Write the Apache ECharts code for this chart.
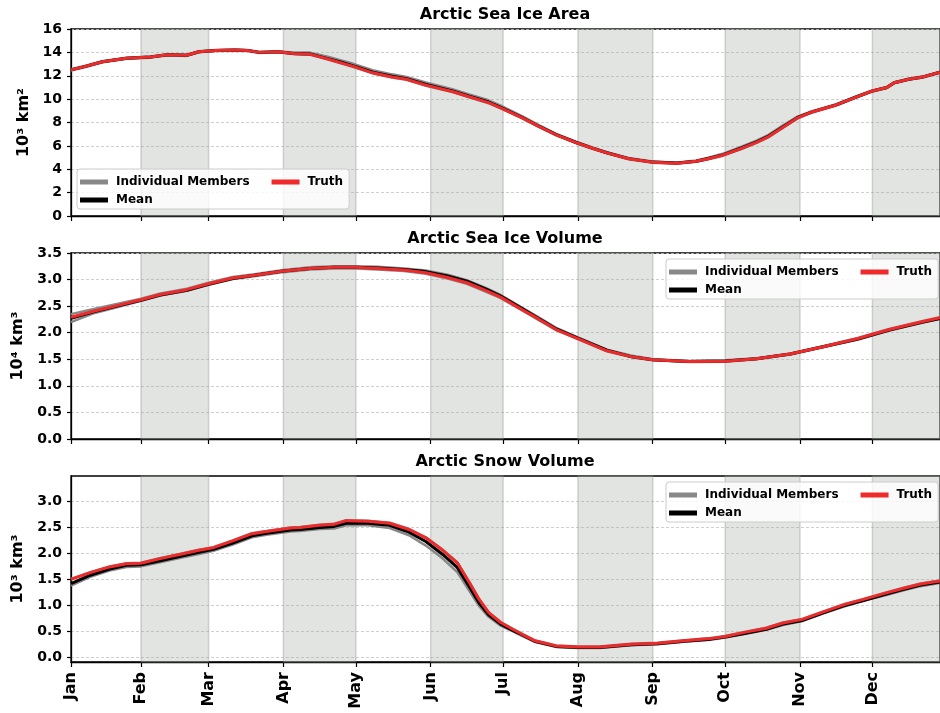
<!DOCTYPE html>
<html>
<head>
<meta charset="utf-8">
<script src="https://cdn.jsdelivr.net/npm/echarts@6.0.0/dist/echarts.min.js"></script>
<style>
  html, body { margin: 0; padding: 0; background: #fff; }
  #chart { width: 940px; height: 713px; }
</style>
</head>
<body>
<div id="chart"></div>
<script>
// month ticks (day of year) and names
var monthNames = ["Jan", "Feb", "Mar", "Apr", "May", "Jun", "Jul", "Aug", "Sep", "Oct", "Nov", "Dec"];
var monthStarts = [2, 31, 59, 90, 120, 151, 181, 212, 243, 273, 304, 334];
var shadedMonths = [[31, 59], [90, 120], [151, 181], [212, 243], [273, 304], [334, 362]];

// Arctic Sea Ice Area (10^3 km^2)
var areaDays = [2, 8, 15, 25, 35, 42, 50, 55, 62, 70, 75, 80, 88, 94, 101, 108, 114, 119, 127, 135, 141, 149, 160, 167, 175, 180, 189, 196, 203, 211, 218, 224, 233, 243, 253, 261, 266, 272, 280, 286, 291, 297, 303, 309, 319, 327, 334, 340, 343, 349, 355, 362];
var areaTruth = [12.5, 12.8, 13.2, 13.5, 13.6, 13.8, 13.75, 14.05, 14.17, 14.2, 14.17, 14.0, 14.05, 13.9, 13.85, 13.45, 13.1, 12.8, 12.25, 11.9, 11.7, 11.2, 10.65, 10.2, 9.7, 9.25, 8.4, 7.65, 6.95, 6.3, 5.8, 5.4, 4.9, 4.6, 4.52, 4.68, 4.9, 5.2, 5.8, 6.3, 6.8, 7.6, 8.4, 8.9, 9.5, 10.15, 10.7, 11.0, 11.4, 11.7, 11.9, 12.3];
var areaMean = [12.5, 12.8, 13.2, 13.5, 13.6, 13.8, 13.75, 14.05, 14.17, 14.2, 14.17, 14.0, 14.05, 13.9, 13.87, 13.49, 13.15, 12.85, 12.3, 11.95, 11.75, 11.25, 10.7, 10.25, 9.75, 9.3, 8.42, 7.66, 6.96, 6.31, 5.81, 5.41, 4.91, 4.61, 4.53, 4.69, 4.92, 5.23, 5.84, 6.34, 6.84, 7.64, 8.43, 8.91, 9.51, 10.16, 10.7, 11.0, 11.4, 11.7, 11.9, 12.3];
var areaHi = [12.55, 12.85, 13.25, 13.55, 13.65, 13.85, 13.8, 14.1, 14.2, 14.22, 14.2, 14.05, 14.08, 13.98, 13.98, 13.65, 13.3, 13.02, 12.48, 12.12, 11.9, 11.42, 10.85, 10.4, 9.9, 9.45, 8.52, 7.75, 7.02, 6.38, 5.86, 5.46, 4.96, 4.66, 4.56, 4.75, 4.98, 5.32, 5.95, 6.45, 6.95, 7.75, 8.5, 8.97, 9.56, 10.2, 10.75, 11.05, 11.45, 11.75, 11.95, 12.35];
var areaLo = [12.45, 12.75, 13.15, 13.45, 13.55, 13.75, 13.7, 14.0, 14.12, 14.15, 14.12, 13.95, 14.0, 13.85, 13.8, 13.42, 13.05, 12.75, 12.2, 11.85, 11.65, 11.15, 10.6, 10.15, 9.65, 9.2, 8.35, 7.6, 6.9, 6.25, 5.75, 5.36, 4.86, 4.56, 4.48, 4.64, 4.86, 5.16, 5.75, 6.25, 6.75, 7.55, 8.35, 8.85, 9.45, 10.1, 10.65, 10.95, 11.35, 11.65, 11.85, 12.25];

// Arctic Sea Ice Volume (10^4 km^3)
var volDays = [2, 11, 21, 31, 39, 50, 59, 69, 78, 90, 101, 111, 120, 129, 140, 149, 158, 166, 174, 180, 189, 196, 203, 212, 224, 234, 243, 258, 273, 286, 300, 314, 328, 341, 355, 362];
var volTruth = [2.29, 2.40, 2.51, 2.62, 2.72, 2.81, 2.92, 3.03, 3.08, 3.16, 3.21, 3.23, 3.23, 3.21, 3.18, 3.13, 3.04, 2.94, 2.79, 2.67, 2.43, 2.25, 2.06, 1.89, 1.66, 1.55, 1.49, 1.46, 1.465, 1.51, 1.60, 1.74, 1.89, 2.06, 2.21, 2.28];
var volMean = [2.27, 2.39, 2.50, 2.61, 2.71, 2.80, 2.91, 3.02, 3.08, 3.16, 3.21, 3.23, 3.23, 3.22, 3.19, 3.15, 3.07, 2.97, 2.82, 2.69, 2.45, 2.26, 2.07, 1.90, 1.67, 1.55, 1.49, 1.46, 1.47, 1.51, 1.60, 1.74, 1.88, 2.05, 2.20, 2.27];
var volHi = [2.35, 2.44, 2.54, 2.64, 2.74, 2.83, 2.94, 3.05, 3.10, 3.18, 3.23, 3.25, 3.25, 3.24, 3.21, 3.17, 3.09, 2.99, 2.84, 2.71, 2.47, 2.28, 2.09, 1.91, 1.68, 1.57, 1.50, 1.47, 1.48, 1.52, 1.61, 1.75, 1.90, 2.07, 2.22, 2.29];
var volLo = [2.20, 2.36, 2.48, 2.60, 2.70, 2.79, 2.90, 3.01, 3.06, 3.14, 3.19, 3.21, 3.21, 3.19, 3.16, 3.11, 3.02, 2.92, 2.77, 2.65, 2.42, 2.23, 2.05, 1.88, 1.65, 1.54, 1.48, 1.45, 1.455, 1.50, 1.59, 1.73, 1.87, 2.04, 2.19, 2.26];

// Arctic Snow Volume (10^3 km^3)
var snowDays = [2, 10, 18, 25, 31, 39, 47, 55, 61, 69, 77, 83, 93, 97, 105, 111, 116, 125, 134, 142, 149, 156, 162, 167, 171, 175, 180, 185, 189, 194, 203, 212, 221, 234, 245, 256, 267, 273, 281, 290, 297, 305, 314, 322, 330, 339, 347, 354, 362];
var snowTruth = [1.50, 1.63, 1.74, 1.80, 1.81, 1.90, 1.98, 2.06, 2.11, 2.24, 2.38, 2.42, 2.49, 2.50, 2.54, 2.56, 2.63, 2.62, 2.58, 2.46, 2.30, 2.06, 1.82, 1.44, 1.12, 0.86, 0.67, 0.54, 0.44, 0.32, 0.22, 0.20, 0.20, 0.25, 0.27, 0.32, 0.36, 0.40, 0.48, 0.56, 0.66, 0.73, 0.88, 1.01, 1.11, 1.23, 1.33, 1.41, 1.47];
var snowMean = [1.42, 1.58, 1.70, 1.77, 1.78, 1.86, 1.94, 2.02, 2.08, 2.20, 2.34, 2.39, 2.45, 2.46, 2.50, 2.52, 2.58, 2.58, 2.54, 2.41, 2.23, 1.98, 1.73, 1.36, 1.05, 0.82, 0.64, 0.52, 0.43, 0.31, 0.21, 0.19, 0.19, 0.24, 0.26, 0.31, 0.35, 0.39, 0.46, 0.54, 0.64, 0.71, 0.86, 0.99, 1.09, 1.21, 1.31, 1.39, 1.45];
var snowHi = [1.51, 1.64, 1.75, 1.81, 1.82, 1.91, 1.99, 2.07, 2.12, 2.25, 2.39, 2.43, 2.50, 2.51, 2.55, 2.57, 2.64, 2.63, 2.59, 2.47, 2.31, 2.07, 1.83, 1.45, 1.13, 0.87, 0.68, 0.55, 0.45, 0.33, 0.23, 0.21, 0.21, 0.26, 0.28, 0.33, 0.37, 0.41, 0.49, 0.57, 0.67, 0.74, 0.89, 1.02, 1.12, 1.24, 1.34, 1.42, 1.48];
var snowLo = [1.38, 1.55, 1.67, 1.74, 1.75, 1.83, 1.91, 1.99, 2.05, 2.17, 2.31, 2.36, 2.42, 2.43, 2.47, 2.48, 2.54, 2.54, 2.49, 2.35, 2.15, 1.90, 1.64, 1.28, 0.99, 0.78, 0.61, 0.50, 0.41, 0.30, 0.20, 0.18, 0.18, 0.23, 0.25, 0.30, 0.34, 0.38, 0.45, 0.53, 0.62, 0.70, 0.85, 0.97, 1.09, 1.19, 1.29, 1.37, 1.43];
var snowTicks = [0, 0.5, 1.0, 1.5, 2.0, 2.5, 3.0];

var FONT = "DejaVu Sans";
var chart = echarts.init(document.getElementById("chart"));

function pairs(xs, ys) {
  var out = [];
  for (var i = 0; i < xs.length; i++) out.push([xs[i], ys[i]]);
  return out;
}

// one set of lines for a panel
function panelSeries(idx, days, hi, lo, mean, truth) {
  var base = { type: "line", xAxisIndex: idx, yAxisIndex: idx, symbol: "none", silent: true, z: 3 };
  return [
    {
      type: "line", xAxisIndex: idx, yAxisIndex: idx, data: [], silent: true, z: 1,
      markArea: {
        silent: true,
        itemStyle: { color: "rgba(160,165,160,0.3)", borderColor: "rgba(140,140,140,0.35)", borderWidth: 1.5 },
        data: shadedMonths.map(function (m) { return [{ xAxis: m[0] }, { xAxis: m[1] }]; })
      }
    },
    Object.assign({}, base, { name: "Individual Members", data: pairs(days, hi), itemStyle: { color: "#888888" }, lineStyle: { color: "#888888", width: 2.5 } }),
    Object.assign({}, base, { name: "Individual Members", data: pairs(days, lo), itemStyle: { color: "#888888" }, lineStyle: { color: "#888888", width: 2.5 } }),
    Object.assign({}, base, { name: "Mean", data: pairs(days, mean), itemStyle: { color: "#000000" }, lineStyle: { color: "#000000", width: 3 } }),
    Object.assign({}, base, { name: "Truth", data: pairs(days, truth), itemStyle: { color: "#ee2a2a" }, lineStyle: { color: "#ee2a2a", width: 3 } })
  ];
}

function xAxisFor(idx) {
  return {
    type: "value", gridIndex: idx, min: 2, max: 362,
    axisLine: { show: true, onZero: false, lineStyle: { color: "#000", width: 1.3 } },
    axisTick: { show: true, customValues: monthStarts, length: 5, lineStyle: { color: "#000", width: 1.2 } },
    axisLabel: {
      show: idx === 2, customValues: monthStarts, rotate: 90, margin: 10,
      fontFamily: FONT, fontWeight: "bold", fontSize: 16, color: "#000",
      formatter: function (v) { return monthNames[monthStarts.indexOf(v)]; }
    },
    splitLine: { show: false }
  };
}

function yAxisFor(idx, name, extra) {
  var ax = {
    type: "value", gridIndex: idx, name: name, nameLocation: "middle", nameGap: 34, nameRotate: 90,
    nameTextStyle: { fontFamily: FONT, fontWeight: "bold", fontSize: 16, color: "#000" },
    axisLine: { show: true, onZero: false, lineStyle: { color: "#000", width: 1.3 } },
    axisTick: { show: true, length: 4, lineStyle: { color: "#000", width: 1.2 } },
    axisLabel: { fontFamily: FONT, fontWeight: "bold", fontSize: 14, color: "#000", margin: 9 },
    splitLine: { show: true, lineStyle: { color: "#c4c4c4", width: 0.8, type: [3, 2] } }
  };
  return Object.assign(ax, extra);
}

function legendPair(left, top) {
  var common = {
    orient: "horizontal", itemWidth: 28, itemHeight: 5, icon: "rect", itemGap: 22,
    textStyle: { fontFamily: FONT, fontWeight: "bold", fontSize: 12, color: "#000", padding: [0, 0, 0, 3] },
    selectedMode: false
  };
  return [
    Object.assign({}, common, {
      data: ["Individual Members", "Truth"], left: left, top: top,
      padding: [7, 6, 21, 3], backgroundColor: "rgba(255,255,255,0.8)",
      borderColor: "#cccccc", borderWidth: 1, borderRadius: 3
    }),
    Object.assign({}, common, { data: ["Mean"], left: left + 3, top: top + 25, padding: 0, z: 10 })
  ];
}

function title(text, y) {
  return {
    type: "text", x: 505, y: y,
    style: { text: text, textAlign: "center", textVerticalAlign: "middle", font: "bold 16px 'DejaVu Sans'", fill: "#000" }
  };
}

var gridBox = { left: 71, right: 0, show: true, borderColor: "#000", borderWidth: 1.3, backgroundColor: "transparent" };

var option = {
  animation: false,
  backgroundColor: "#fff",
  grid: [
    Object.assign({}, gridBox, { top: 29, height: 187 }),
    Object.assign({}, gridBox, { top: 253, height: 186 }),
    Object.assign({}, gridBox, { top: 476, height: 186 })
  ],
  xAxis: [xAxisFor(0), xAxisFor(1), xAxisFor(2)],
  yAxis: [
    yAxisFor(0, "10³ km²", { min: 0, max: 16, interval: 2 }),
    yAxisFor(1, "10⁴ km³", { min: 0, max: 3.5, interval: 0.5 }),
    yAxisFor(2, "10³ km³", { min: -0.09, max: 3.49 })
  ],
  legend: [].concat(legendPair(77, 169), legendPair(666, 259), legendPair(666, 482)),
  graphic: [
    title("Arctic Sea Ice Area", 15),
    title("Arctic Sea Ice Volume", 239),
    title("Arctic Snow Volume", 462)
  ],
  series: [].concat(
    panelSeries(0, areaDays, areaHi, areaLo, areaMean, areaTruth),
    panelSeries(1, volDays, volHi, volLo, volMean, volTruth),
    panelSeries(2, snowDays, snowHi, snowLo, snowMean, snowTruth)
  )
};

// snow panel: custom ticks, labels and grid lines since the axis starts below 0
option.yAxis[1].axisLabel.formatter = function (v) { return v.toFixed(1); };
option.yAxis[2].axisTick.customValues = snowTicks;
option.yAxis[2].axisLabel.customValues = snowTicks;
option.yAxis[2].axisLabel.formatter = function (v) { return v.toFixed(1); };

chart.setOption(option);
</script>
</body>
</html>
